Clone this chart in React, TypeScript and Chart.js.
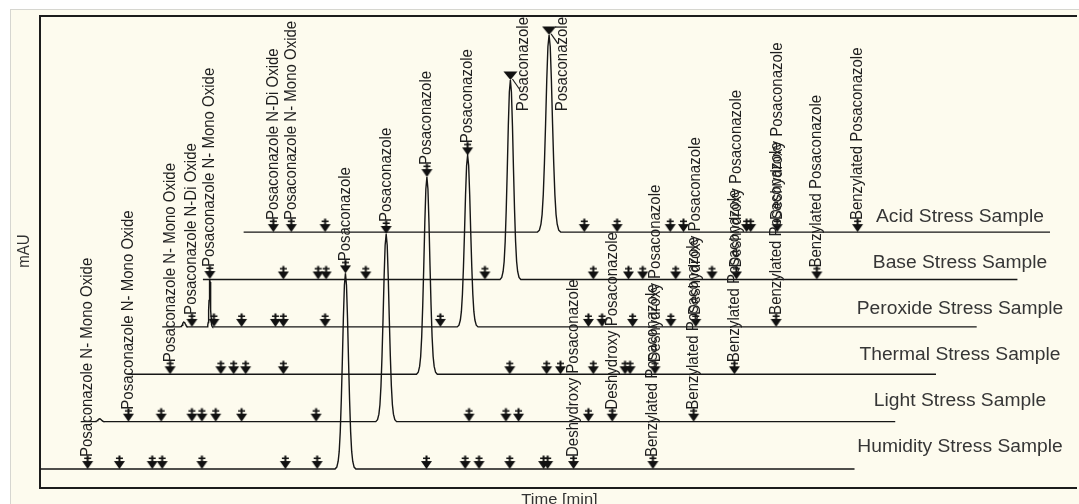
import React, { useEffect, useRef } from 'react';
import { Chart, registerables } from 'chart.js';

Chart.register(...registerables);

// ---------- data ----------
const SAMPLE_NAMES = [
  'Humidity Stress Sample',
  'Light Stress Sample',
  'Thermal Stress Sample',
  'Peroxide Stress Sample',
  'Base Stress Sample',
  'Acid Stress Sample',
];

const COMPOUNDS = [
  'Posaconazole N- Mono Oxide',
  'Posaconazole N-Di Oxide',
  'Posaconazole',
  'Deshydroxy Posaconazole',
  'Benzylated Posaconazole',
];

const X_TITLE = 'Time [min]';
const Y_TITLE = 'mAU';

// run window of every trace (min)
const TRACE_START = [0, 0, 0.3, 0, 0, 0];
const TRACE_END = [40, 40, 40, 40, 40, 39.6];

// main Posaconazole peak (min, mAU, width factor)
const MAIN_PEAK_TIME = [15.0, 15.0, 15.0, 15.0, 15.1, 15.0];
const MAIN_PEAK_HEIGHT = [413, 396, 416, 362, 421, 416];
const MAIN_PEAK_WIDTH = [0.85, 0.85, 0.85, 0.85, 0.85, 0.95];

// minor peaks: [time, height, width factor]
const MINOR_HUMIDITY: number[][] = [];
const MINOR_LIGHT = [[0.93, 6, 0.5]];
const MINOR_THERMAL: number[][] = [];
const MINOR_PEROXIDE = [[1.07, 10, 0.4], [2.34, 101, 0.22]];
const MINOR_BASE: number[][] = [];
const MINOR_ACID: number[][] = [];

// normalized peak shape: [dt (min), fraction of height]
const PEAK_PROFILE = [
  [-0.6, 0], [-0.5, 0.01], [-0.42, 0.04], [-0.36, 0.09], [-0.3, 0.19], [-0.24, 0.35],
  [-0.18, 0.55], [-0.12, 0.77], [-0.06, 0.94], [0, 1], [0.06, 0.94], [0.12, 0.77],
  [0.18, 0.55], [0.24, 0.35], [0.3, 0.19], [0.36, 0.09], [0.42, 0.04], [0.5, 0.01], [0.6, 0],
];

// unlabelled peak-marker arrows (min)
const ARROWS_HUMIDITY = [3.9, 5.51, 6.0, 7.95, 12.05, 13.61, 18.98, 20.88, 21.56, 23.07, 24.73, 24.93];
const ARROWS_LIGHT = [3.95, 5.46, 5.95, 6.63, 7.9, 11.56, 19.07, 20.88, 21.5, 24.93];
const ARROWS_THERMAL = [4.88, 5.51, 6.1, 7.95, 19.07, 20.88, 21.56, 23.17, 24.73, 24.98];
const ARROWS_PEROXIDE = [2.54, 3.9, 5.56, 5.95, 8.0, 13.66, 20.93, 21.6, 23.1, 24.98];
const ARROWS_BASE = [3.95, 5.66, 6.05, 8.0, 13.85, 19.17, 20.9, 21.6, 23.22, 25.0];
const ARROWS_ACID = [4.0, 16.73, 18.34, 20.95, 21.6, 24.7, 24.9];

// labelled arrows: [time (min), compound index]
const LABELS_HUMIDITY = [[2.34, 0], [15.0, 2], [26.2, 3], [30.1, 4]];
const LABELS_LIGHT = [[2.34, 0], [15.0, 2], [26.1, 3], [30.1, 4]];
const LABELS_THERMAL = [[2.39, 0], [15.0, 2], [26.2, 3], [30.1, 4]];
const LABELS_PEROXIDE = [[1.46, 1], [2.34, 0], [15.0, 2], [26.2, 3], [30.15, 4]];
const LABELS_BASE = [[15.1, 2], [26.2, 3], [30.15, 4]];
const LABELS_ACID = [[1.46, 1], [2.34, 0], [15.0, 2], [26.2, 3], [30.15, 4]];

const MINOR = [MINOR_HUMIDITY, MINOR_LIGHT, MINOR_THERMAL, MINOR_PEROXIDE, MINOR_BASE, MINOR_ACID];
const ARROWS = [ARROWS_HUMIDITY, ARROWS_LIGHT, ARROWS_THERMAL, ARROWS_PEROXIDE, ARROWS_BASE, ARROWS_ACID];
const LABELS = [LABELS_HUMIDITY, LABELS_LIGHT, LABELS_THERMAL, LABELS_PEROXIDE, LABELS_BASE, LABELS_ACID];

// ---------- layout / style ----------
const TRACE_DX = 2; // min offset per stacked trace
const TRACE_DY = 100; // mAU offset per stacked trace
const X_MIN = 0;
const X_MAX = 50.68;
const Y_MIN = -40;
const Y_MAX = 956;
const FONT_FAMILY = '"Liberation Sans", Arial, Helvetica, sans-serif';
const LABEL_FONT = `15px ${FONT_FAMILY}`;
const SAMPLE_FONT = `17.5px ${FONT_FAMILY}`;
const TITLE_FONT = `15px ${FONT_FAMILY}`;
const STRETCH = 1.1;

function makeArrow(): HTMLCanvasElement {
  const c = document.createElement('canvas');
  c.width = 13;
  c.height = 30;
  const g = c.getContext('2d')!;
  g.fillStyle = '#111';
  g.beginPath();
  g.moveTo(1, 7);
  g.lineTo(12, 7);
  g.lineTo(6.5, 15);
  g.closePath();
  g.fill();
  g.fillRect(5.5, 1.5, 2, 6.5);
  g.fillRect(3, 3.5, 7, 1.5);
  return c;
}

function makeTriangle(): HTMLCanvasElement {
  const c = document.createElement('canvas');
  c.width = 15;
  c.height = 20;
  const g = c.getContext('2d')!;
  g.fillStyle = '#111';
  g.beginPath();
  g.moveTo(0.5, 1.5);
  g.lineTo(14.5, 1.5);
  g.lineTo(7.5, 10);
  g.closePath();
  g.fill();
  return c;
}

function peakHeightAt(i: number, t: number): number {
  if (Math.abs(MAIN_PEAK_TIME[i] - t) < 0.08) return MAIN_PEAK_HEIGHT[i];
  for (const p of MINOR[i]) if (Math.abs(p[0] - t) < 0.08) return p[1];
  return 0;
}

export default function App() {
  const ref = useRef<HTMLCanvasElement>(null);

  useEffect(() => {
    const canvas = ref.current;
    if (!canvas) return;
    const arrowImg = makeArrow();
    const triImg = makeTriangle();

    const traceSets = SAMPLE_NAMES.map((name, i) => {
      const dx = i * TRACE_DX;
      const dy = i * TRACE_DY;
      const peaks = [[MAIN_PEAK_TIME[i], MAIN_PEAK_HEIGHT[i], MAIN_PEAK_WIDTH[i]], ...MINOR[i]].sort((a, b) => a[0] - b[0]);
      const pts: { x: number; y: number }[] = [{ x: TRACE_START[i] + dx, y: dy }];
      for (const [t, h, w] of peaks) {
        for (const [d, f] of PEAK_PROFILE) pts.push({ x: t + d * w + dx, y: h * f + dy });
      }
      pts.push({ x: TRACE_END[i] + dx, y: dy });
      return {
        label: name,
        data: pts,
        showLine: true,
        borderColor: '#161616',
        borderWidth: 1.4,
        pointRadius: 0,
        tension: 0,
        fill: false,
        order: 1,
      };
    });

    const marks: { x: number; y: number; label: string | null }[] = [];
    SAMPLE_NAMES.forEach((_, i) => {
      const dx = i * TRACE_DX;
      const dy = i * TRACE_DY;
      for (const t of ARROWS[i]) marks.push({ x: t + dx, y: dy, label: null });
      for (const [t, k] of LABELS[i]) marks.push({ x: t + dx, y: peakHeightAt(i, t) + dy, label: COMPOUNDS[k] });
    });

    const textWidth = (chart: any, text: string, font: string) => {
      const c = chart.ctx as CanvasRenderingContext2D;
      c.save();
      c.font = font;
      const w = c.measureText(text).width;
      c.restore();
      return w;
    };
    const isSide = (chart: any, raw: any) => {
      if (!raw || !raw.label || !chart.scales || !chart.scales.y || !chart.chartArea) return false;
      const py = chart.scales.y.getPixelForValue(raw.y);
      return py - 12 - textWidth(chart, raw.label, LABEL_FONT) < chart.chartArea.top;
    };

    const drawRot = (ctx: CanvasRenderingContext2D, text: string, x: number, y: number, align: CanvasTextAlign) => {
      ctx.save();
      ctx.translate(x, y);
      ctx.scale(STRETCH, 1);
      ctx.rotate(-Math.PI / 2);
      ctx.textAlign = align;
      ctx.textBaseline = 'middle';
      ctx.fillText(text, 0, 0);
      ctx.restore();
    };

    const annot = {
      id: 'annot',
      beforeDatasetsDraw(chart: any) {
        const ctx = chart.ctx as CanvasRenderingContext2D;
        const { left, right, top, bottom } = chart.chartArea;
        ctx.save();
        ctx.strokeStyle = '#1c1c1c';
        ctx.lineWidth = 2;
        ctx.beginPath();
        ctx.moveTo(right + 5, top);
        ctx.lineTo(left, top);
        ctx.lineTo(left, bottom);
        ctx.lineTo(right + 5, bottom);
        ctx.stroke();
        ctx.restore();
      },
      afterDatasetsDraw(chart: any) {
        const ctx = chart.ctx as CanvasRenderingContext2D;
        const { left, right, top, bottom } = chart.chartArea;
        const meta = chart.getDatasetMeta(0);
        ctx.save();
        ctx.fillStyle = '#1e1e1e';
        ctx.strokeStyle = '#1e1e1e';
        ctx.lineWidth = 1.2;
        ctx.font = LABEL_FONT;
        meta.data.forEach((el: any, j: number) => {
          const raw = marks[j];
          if (!raw.label) return;
          if (isSide(chart, raw)) {
            ctx.beginPath();
            ctx.moveTo(el.x + 2, el.y - 1);
            ctx.lineTo(el.x + 9, el.y + 9);
            ctx.stroke();
            drawRot(ctx, raw.label, el.x + 13, top + 1, 'right');
          } else {
            drawRot(ctx, raw.label, el.x, el.y - 12, 'left');
          }
        });
        // sample names
        ctx.fillStyle = '#363636';
        ctx.font = SAMPLE_FONT;
        SAMPLE_NAMES.forEach((name, i) => {
          const by = chart.scales.y.getPixelForValue(i * TRACE_DY);
          ctx.save();
          ctx.translate(right - 112, by - 22 + 1.4 * i);
          ctx.scale(STRETCH, 1);
          ctx.textAlign = 'center';
          ctx.textBaseline = 'middle';
          ctx.fillText(name, 0, 0);
          ctx.restore();
        });
        // axis titles
        ctx.fillStyle = '#333';
        ctx.font = TITLE_FONT;
        ctx.save();
        ctx.translate((left + right) / 2 + 3.5, bottom + 16);
        ctx.scale(STRETCH, 1);
        ctx.textAlign = 'center';
        ctx.textBaseline = 'alphabetic';
        ctx.fillText(X_TITLE, 0, 0);
        ctx.restore();
        drawRot(ctx, Y_TITLE, left - 16, (top + bottom) / 2 - 1, 'center');
        ctx.restore();
      },
    };

    const chart = new Chart(canvas, {
      type: 'scatter',
      data: {
        datasets: [
          {
            label: 'markers',
            data: marks as any,
            showLine: false,
            pointRadius: 6,
            pointStyle: ((c: any) => (isSide(c.chart, c.raw) ? triImg : arrowImg)) as any,
            order: 0,
          } as any,
          ...traceSets,
        ],
      },
      options: {
        animation: false,
        responsive: false,
        devicePixelRatio: 1,
        events: [],
        layout: { padding: { left: 40, top: 16, right: 0, bottom: 16 } },
        scales: {
          x: { type: 'linear', min: X_MIN, max: X_MAX, display: false },
          y: { type: 'linear', min: Y_MIN, max: Y_MAX, display: false },
        },
        plugins: { legend: { display: false }, tooltip: { enabled: false } },
      },
      plugins: [annot as any],
    });
    return () => chart.destroy();
  }, []);

  return (
    <div style={{ position: 'fixed', left: 0, top: 0, width: 1079, height: 504, background: '#ffffff', overflow: 'hidden' }}>
      <div
        style={{
          position: 'absolute',
          left: 10,
          top: 9,
          right: 0,
          bottom: 0,
          background: '#fdfbee',
          borderLeft: '1px solid #d6d6d0',
          borderTop: '1px solid #d6d6d0',
        }}
      />
      <canvas ref={ref} width={1079} height={504} style={{ position: 'absolute', left: 0, top: 0, width: 1079, height: 504 }} />
    </div>
  );
}
